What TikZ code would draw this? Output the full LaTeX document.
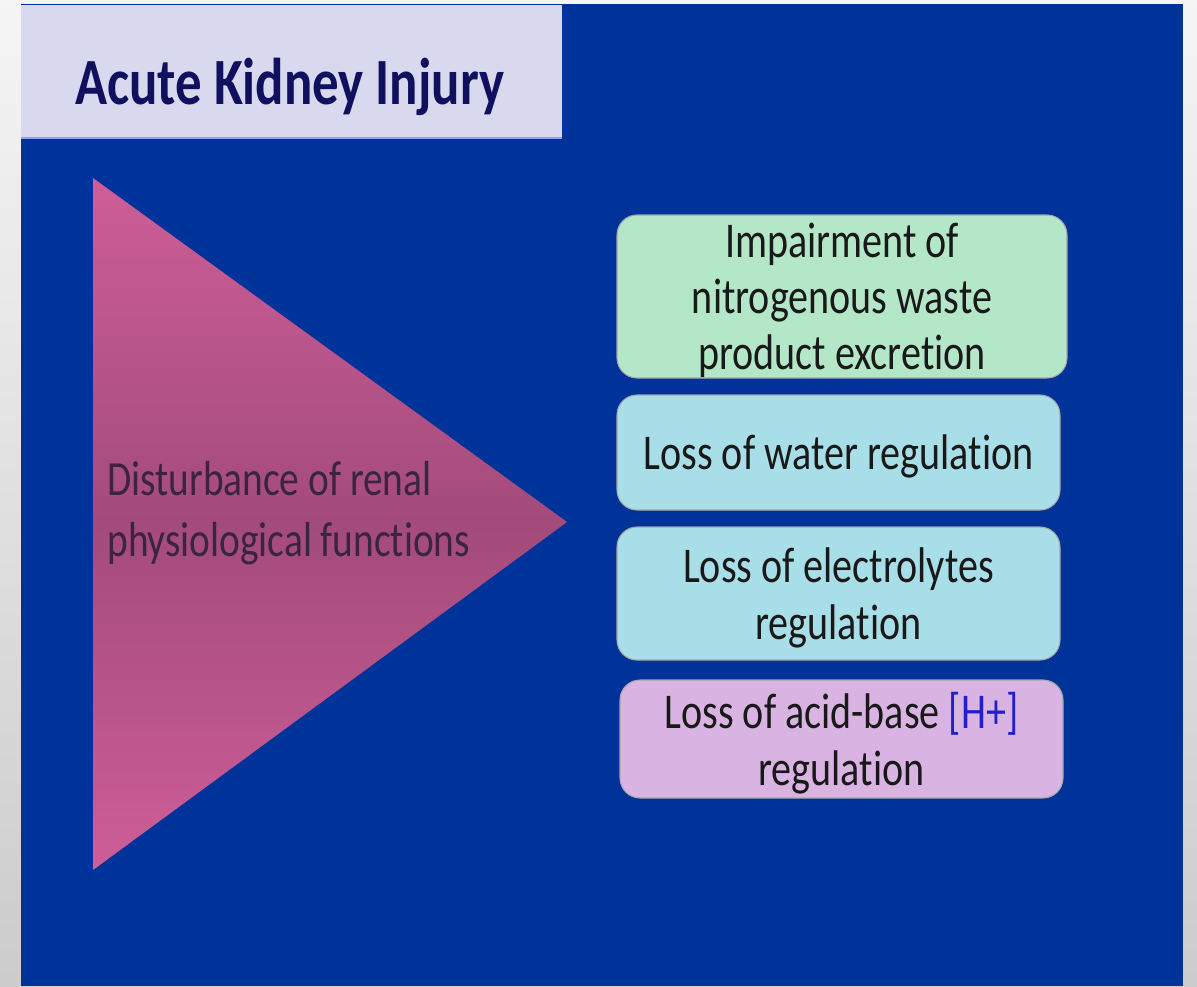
\documentclass[tikz,border=0pt]{standalone}
\usepackage{fontspec}
\setmainfont{Carlito}[FakeStretch=0.8, Ligatures=NoCommon, Contextuals=NoAlternate]
\usepackage{xcolor}
\usepackage{tikz}
\usetikzlibrary{positioning, calc}
\definecolor{slideblue}{HTML}{003399}
\definecolor{titlefill}{HTML}{D8D8EE}
\definecolor{titletext}{HTML}{10105E}
\definecolor{pinkedge}{HTML}{CE5E98}
\definecolor{pinkmid}{HTML}{A34B7B}
\definecolor{plumtext}{HTML}{3A2440}
\definecolor{greenbox}{HTML}{B4E6C8}
\definecolor{cyanbox}{HTML}{A8DEE8}
\definecolor{lilacbox}{HTML}{D9B4E3}
\definecolor{hplus}{HTML}{2020C8}
\newcommand{\tiglyph}{t\kern0pt i}

\begin{document}
\begin{tikzpicture}[
    itembox/.style={draw=black!35, line width=0.6pt, rounded corners=0.4cm,
          align=center, text=black!90, inner sep=0pt, text depth=0pt,
          font=\fontsize{28.5}{32}\selectfont}]
    % page and slide
    \shade[top color=white!96!black, bottom color=black!20] (0,0) rectangle (23.94,-19.72);
    \fill[slideblue] (0.42,-0.08) rectangle (23.66,-19.72);
    \useasboundingbox (0,0) rectangle (23.94,-19.72);
    % title
    \fill[titlefill] (0.42,-0.10) rectangle (11.24,-2.76);
    \draw[blue!40!white, line width=0.6pt] (0.42,-2.76) -- (11.24,-2.76);
    \node[anchor=base west, inner sep=0pt, text=titletext,
          font=\fontsize{37.6}{42}\selectfont\bfseries] (title) at (1.5,-2.10) {Acute Kidney Injury};
    % triangle
    \shade[top color=pinkedge, bottom color=pinkedge, middle color=pinkmid]
      (1.86,-3.56) -- (11.34,-10.44) -- (1.86,-17.40) -- cycle;
    \node[anchor=west, align=left, inner sep=0pt, text=plumtext,
          font=\fontsize{28}{34.5}\selectfont] (renal) at (2.14,-10.26)
      {Disturbance of renal\\physiological func\tiglyph ons};
    % boxes
    \node[itembox, fill=greenbox, minimum width=9.0cm, minimum height=3.26cm] (impair)
      at (16.84,-5.93) {Impairment of\\nitrogenous waste\\product excre\tiglyph on};
    \node[itembox, fill=cyanbox, minimum width=8.86cm, minimum height=2.30cm] (water)
      at (16.77,-9.05) {Loss of water regula\tiglyph on};
    \node[itembox, fill=cyanbox, minimum width=8.86cm, minimum height=2.66cm] (electro)
      at (16.77,-11.87) {Loss of electrolytes\\regula\tiglyph on};
    \node[itembox, fill=lilacbox, minimum width=8.86cm, minimum height=2.36cm] (acidbase)
      at (16.83,-14.78) {Loss of acid-base \textcolor{hplus}{[H+]}\\regula\tiglyph on};
  \end{tikzpicture}
\end{document}
